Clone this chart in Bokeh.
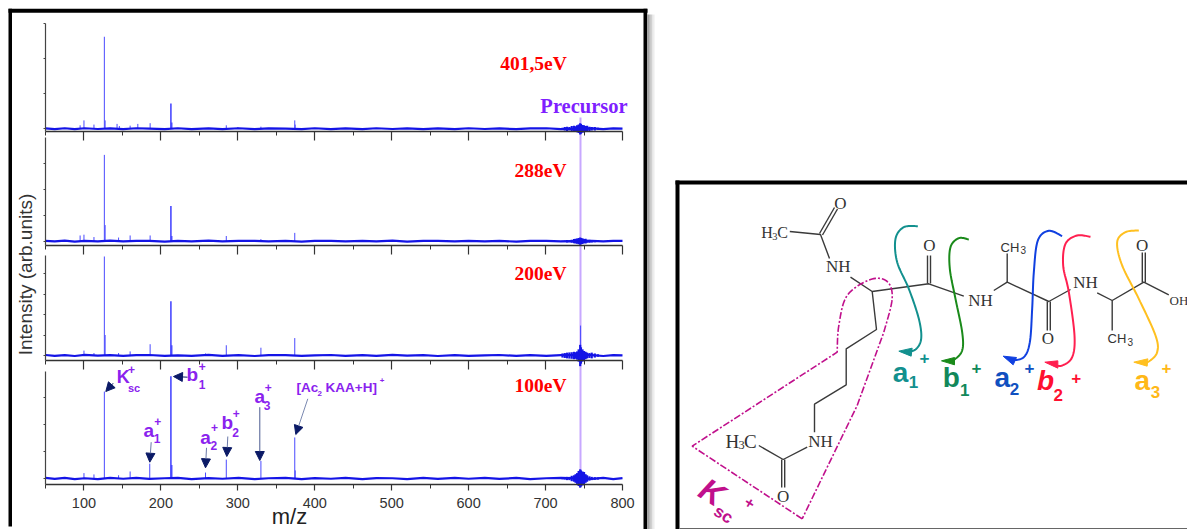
from math import pi
from bokeh.plotting import figure
from bokeh.embed import file_html
from bokeh.resources import INLINE
from bokeh.core.properties import value
from bokeh.models import LinearAxis, Range1d, FixedTicker, Arrow, NormalHead

# ---------- data (m/z, intensity in tick units) ----------
mz_ticks = [100, 200, 300, 400, 500, 600, 700, 800]
mz_minor = [50, 150, 250, 350, 450, 550, 650, 750]
energies = ["401,5eV", "288eV", "200eV", "100eV"]

peaks_mz_401 = [95, 100, 113, 126.5, 127.5, 143, 146, 160, 170, 186, 213, 214, 285, 374, 374.5, 300, 330]
peaks_i_401 = [0.10, 0.24, 0.12, 2.63, 0.24, 0.14, 0.08, 0.09, 0.14, 0.16, 0.72, 0.18, 0.10, 0.24, 0.12, 0.05, 0.06]

peaks_mz_288 = [95, 100, 113, 126.5, 127.5, 145, 160, 186, 213, 214, 285, 330, 374]
peaks_i_288 = [0.22, 0.25, 0.16, 3.32, 0.62, 0.14, 0.22, 0.22, 1.35, 0.2, 0.2, 0.08, 0.32]

peaks_mz_200 = [100, 113, 126.5, 127.5, 145, 160, 186, 213, 214, 258, 285, 330, 374, 745.5]
peaks_i_200 = [0.24, 0.12, 4.83, 1.0, 0.12, 0.2, 0.55, 2.65, 0.5, 0.1, 0.5, 0.38, 0.85, 1.46]

peaks_mz_100 = [100, 113, 126.5, 145, 160, 185.5, 213, 214, 258, 285, 330, 374, 374.6]
peaks_i_100 = [0.2, 0.15, 3.22, 0.12, 0.26, 0.55, 3.79, 0.5, 0.22, 0.7, 0.65, 1.52, 0.3]

base_mz = [50, 62, 75, 88, 101, 118, 134, 151, 168, 185, 205, 222, 240, 262, 280, 301, 322, 340, 362, 383, 400,
           421, 440, 462, 480, 501, 520, 541, 560, 582, 600, 621, 640, 662, 680, 701, 720, 760, 775, 788, 800]
base_i_401 = [.01, -.01, .015, -.01, .015, -.005, .01, -.01, .015, .005, -.01, .015, -.01, .01, -.01, .015, -.01, .01, .005, -.01, .015,
              -.01, .01, -.01, .015, -.005, .01, -.01, .01, -.01, .015, -.005, .01, -.01, .01, .015, -.01, .01, -.01, .01, .005]
base_i_288 = [.015, -.01, .02, -.015, .01, -.01, .02, -.01, .01, .015, -.015, .01, -.01, .02, -.01, .01, .015, -.01, .01, -.015, .01,
              .015, -.01, .01, -.01, .02, -.015, .01, .01, -.01, .015, -.01, .01, -.015, .01, .01, -.01, .01, -.01, .015, .01]
base_i_200 = [.025, -.02, .015, -.025, .03, -.01, .02, -.02, .015, .025, -.02, .01, -.02, .03, -.015, .02, -.025, .015, .02, -.02, .01,
              .025, -.015, .02, -.02, .03, -.01, .02, -.025, .02, -.015, .01, .025, -.02, .02, -.015, .02, .02, -.025, .02, .01]
base_i_100 = [.02, -.015, .02, -.02, .01, -.02, .02, -.01, .025, -.015, .01, .02, -.02, .015, -.01, .025, -.02, .01, .02, -.02, .015,
              -.01, .02, -.02, .015, .01, -.02, .02, -.015, .02, -.01, .02, -.015, .02, -.02, .01, .02, -.015, .02, -.02, .015]

noise_mz = [722, 725, 728, 731, 734, 737, 739, 741, 743, 745, 746, 748, 750, 752, 754, 757, 760, 764, 768]
noise_i_401 = [.03, .05, .06, .05, .08, .09, .07, .1, .12, .16, .14, .11, .1, .08, .09, .06, .05, .05, .03]
noise_i_288 = [.02, .03, .05, .04, .06, .08, .09, .1, .12, .14, .12, .11, .08, .09, .06, .06, .05, .04, .03]
noise_i_200 = [.1, .12, .14, .15, .16, .18, .16, .2, .3, .52, .4, .3, .22, .18, .14, .12, .14, .1, .06]
noise_i_100 = [.03, .04, .06, .06, .1, .12, .16, .2, .28, .34, .3, .26, .24, .16, .12, .08, .06, .05, .04]

tick_counts = [[0, 1, 2, 3], [0, 1, 2, 3], [0, 1, 2, 3, 4], [0, 1, 2, 3]]

# ---------- geometry in page pixels ----------
W, H = 1187, 529
X0, Y0 = 0, 0
X50, X800 = 45, 622
k = (X800 - X50) / 750
panels = [
    dict(name="a", base=128.3, unit=35.0, top=23.3, axis=130.7, peaks=(peaks_mz_401, peaks_i_401), noise=noise_i_401, b=base_i_401),
    dict(name="b", base=240.7, unit=26.0, top=137.0, axis=245.0, peaks=(peaks_mz_288, peaks_i_288), noise=noise_i_288, b=base_i_288),
    dict(name="c", base=355.0, unit=20.5, top=255.0, axis=360.0, peaks=(peaks_mz_200, peaks_i_200), noise=noise_i_200, b=base_i_200),
    dict(name="d", base=478.0, unit=27.0, top=370.7, axis=484.0, peaks=(peaks_mz_100, peaks_i_100), noise=noise_i_100, b=base_i_100),
]

p = figure(width=W, height=H, output_backend="svg", toolbar_location=None,
           x_axis_type=None, y_axis_type=None, min_border=0,
           x_range=Range1d(50 - (X50 - X0) / k, 50 + (X0 + W - X50) / k),
           y_range=Range1d(Y0 + H, Y0))
p.outline_line_color = None
p.grid.visible = False
p.background_fill_color = "white"
p.extra_x_ranges["px"] = Range1d(X0, X0 + W)
PX = dict(x_range_name="px")

SERIF = "Liberation Serif"
SANS = "Liberation Sans"


def label(x, y, t, color, size, style="bold", font=SANS, angle=0.0, align="center"):
    p.text([x], [y], text=[t], text_color=color, text_font_size=f"{size}px", text_font=value(font),
           text_font_style=style, text_align=align, text_baseline="middle", angle=angle, x_range_name="px")


# ---------- frames and shadows ----------
for x, a in zip([647, 648.5, 650, 651.5, 653], [0.55, 0.42, 0.28, 0.15, 0.06]):
    p.quad(left=[x], right=[x + 1.5], top=[14], bottom=[529], fill_color="#555555", fill_alpha=a, line_color=None, **PX)
p.quad(left=[8, 8, 643, 675, 675], right=[11.5, 647, 646.7, 679, 1187],
       top=[8.3, 8.3, 8.3, 180, 180], bottom=[526, 12.3, 529, 529, 184],
       fill_color="black", line_color=None, **PX)
p.quad(left=[679], right=[1187], top=[527.5], bottom=[529], fill_color="#666666", line_color=None, **PX)

# ---------- precursor line ----------
prec = 745.4
p.segment(x0=[prec], x1=[prec], y0=[117], y1=[473], line_color="#c8a8ff", line_width=2)

# ---------- spectra ----------
BLUE = "#1414e6"
for q in panels:
    name = q["name"]
    p.extra_y_ranges[name] = Range1d(-(Y0 + H - q["base"]) / q["unit"], (q["base"] - Y0) / q["unit"])
    mz, ii = q["peaks"]
    lw = [1.6 if (m == 213 or m == 214) else 1.0 for m in mz]
    p.segment(x0=mz, x1=mz, y0=[0] * len(mz), y1=ii, line_color="#4a4aff", line_width=lw, y_range_name=name)
    p.line(base_mz, q["b"], line_color=BLUE, line_width=2.2, y_range_name=name)
    p.segment(x0=noise_mz, x1=noise_mz, y0=[-v for v in q["noise"]], y1=q["noise"],
              line_color=BLUE, line_width=2.2, y_range_name=name)

for i, q in enumerate(panels):
    name = q["name"]
    lo = -(q["axis"] - q["base"]) / q["unit"]
    hi = (q["base"] - q["top"]) / q["unit"]
    xa = LinearAxis(y_range_name=name, fixed_location=lo, bounds=(50, 800),
                    ticker=FixedTicker(ticks=mz_ticks + [], minor_ticks=mz_minor),
                    major_tick_in=0, major_tick_out=9 if i < 3 else 6, minor_tick_in=0, minor_tick_out=4,
                    axis_line_color="#333333", axis_line_width=1.4, major_tick_line_color="#333333",
                    minor_tick_line_color="#333333", major_tick_line_width=1.2,
                    major_label_text_font=SANS, major_label_text_font_size="14.5px",
                    major_label_text_color="#333333", major_label_standoff=7)
    if i < 3:
        xa.major_label_overrides = {t: "" for t in mz_ticks}
    p.add_layout(xa, "below")
    ya = LinearAxis(y_range_name=name, fixed_location=50, bounds=(lo, hi),
                    ticker=FixedTicker(ticks=tick_counts[i]),
                    major_tick_in=0, major_tick_out=2, minor_tick_line_color=None,
                    axis_line_color="#444444", axis_line_width=1.2, major_tick_line_color="#444444",
                    major_label_overrides={t: "" for t in tick_counts[i]})
    p.add_layout(ya, "left")

# ---------- axis titles ----------
label(25, 274, "Intensity (arb.units)", "#333333", 19, style="normal", angle=pi / 2)
label(289, 516, "m/z", "#222222", 22, style="normal")

# ---------- energy labels ----------
RED = "#ff0000"
for (x, y), t in zip([(533, 63), (540, 170), (540, 272.7), (540, 385)], energies):
    label(x, y, t, RED, 19.5, font=SERIF)
label(583.5, 105.5, "Precursor", "#7f1fff", 20.5, font=SERIF)

# ---------- peak labels ----------
PUR = "#8a22ee"
for (x, y, t, s) in [
    (122.7, 376.7, "K", 18), (131, 369.3, "+", 12), (133.5, 387, "sc", 11),
    (191.7, 374, "b", 19), (201.7, 366, "+", 12), (201.7, 384, "1", 12),
    (148.3, 430, "a", 19), (157.3, 420.7, "+", 12), (156.7, 438.3, "1", 12),
    (205, 436.7, "a", 19), (214, 427.3, "+", 12), (213.3, 445.3, "2", 12),
    (226.7, 421.7, "b", 19), (235.7, 412.7, "+", 12), (235, 431.7, "2", 12),
    (259.3, 396, "a", 19), (267.7, 386.7, "+", 12), (266.7, 405, "3", 12),
]:
    label(x, y, t, PUR, s)
label(296, 386.7, "[Ac", PUR, 13.5, align="left")
label(317, 393, "2", PUR, 8, align="left")
label(325, 386.7, "KAA+H]", PUR, 13.5, align="left")
label(381.7, 379.5, "+", PUR, 8)

NAVY = "#0b1a66"
for (x0, y0, x1, y1, gray) in [
    (112.7, 382.7, 105.3, 391, NAVY), (187, 376.7, 173, 376, NAVY), (150.7, 441.7, 149.3, 461.7, "#6a78a8"),
    (206, 447.3, 205, 467.3, "#6a78a8"), (227.3, 436, 226.3, 456, "#6a78a8"),
    (259.3, 406.7, 259.3, 460, "#4a5a90"), (307.3, 398.3, 295.3, 434, "#7a88b0"),
]:
    p.add_layout(Arrow(end=NormalHead(size=9, fill_color=NAVY, line_color=NAVY), line_color=gray, line_width=1,
                       x_start=x0, y_start=y0, x_end=x1, y_end=y1, x_range_name="px", start_units="data", end_units="data"))

# ---------- molecule ----------
BOND = "#3a3a3a"
bonds = [
    [(789.3, 231), (820, 234), (829, 258)], [(850, 276.7), (871.7, 291), (928.3, 283.3), (963.3, 295.7)],
    [(871.7, 291), (876, 329), (845.7, 348.3), (845.7, 384.3), (814, 403.7), (814, 431.7)],
    [(806.7, 446.7), (782.7, 459), (758.3, 445)],
    [(993.3, 290), (1006.7, 281.7), (1048.3, 301), (1070, 289)], [(1006.7, 281.7), (1006.7, 253)],
    [(1096.7, 292.3), (1111.7, 300), (1143.3, 281.7), (1168.3, 294.3)], [(1111.7, 300), (1111.7, 330)],
]
doubles = [
    [(819, 233), (834, 207)], [(822, 234.5), (837, 208.5)],
    [(927, 283), (927, 255)], [(930, 283), (930, 255)],
    [(781.2, 459), (781.2, 487)], [(784.2, 459), (784.2, 487)],
    [(1046.8, 301), (1046.8, 330)], [(1049.8, 301), (1049.8, 330)],
    [(1141.8, 282), (1141.8, 252)], [(1144.8, 282), (1144.8, 252)],
]
for b in bonds + doubles:
    p.line([c[0] for c in b], [c[1] for c in b], line_color=BOND, line_width=1.4, x_range_name="px")


def chem(x, y, t, size=17, align="center"):
    label(x, y, t, "#333333", size, style="normal", font=SERIF, align=align)


for (x, y, t) in [(840, 203, "O"), (837.7, 266, "NH"), (929, 245, "O"), (980, 300, "NH"),
                  (1047.3, 337.5, "O"), (1085, 281.7, "NH"), (1141.7, 245, "O"), (820, 441, "NH"),
                  (782.7, 495.7, "O")]:
    chem(x, y, t)
chem(1169, 300, "OH", size=13, align="left")
for (x, y, s, dx, dc) in [(760.7, 231.7, 16, 11, 16), (725, 440.7, 19, 13, 18.5)]:
    chem(x, y, "H", size=s, align="left")
    label(x + dx, y + 4, "3", "#333333", s * 0.65, style="normal", font=SERIF, align="left")
    chem(x + dc, y, "C", size=s, align="left")
for (x, y) in [(1000, 246.7), (1107, 338.3)]:
    label(x, y, "CH", "#333333", 13, style="normal", font=SANS, align="left")
    label(x + 20, y + 3, "3", "#333333", 10, style="normal", font=SANS, align="left")

# ---------- cleavage curves ----------


def smooth(pts, steps=12):
    out = []
    P = [pts[0]] + pts + [pts[-1]]
    for i in range(1, len(P) - 2):
        for j in range(steps):
            t = j / steps
            out.append(tuple(0.5 * (2 * P[i][d] + (P[i + 1][d] - P[i - 1][d]) * t
                                    + (2 * P[i - 1][d] - 5 * P[i][d] + 4 * P[i + 1][d] - P[i + 2][d]) * t ** 2
                                    + (3 * P[i][d] - P[i - 1][d] - 3 * P[i + 1][d] + P[i + 2][d]) * t ** 3) for d in (0, 1)))
    out.append(pts[-1])
    return out


def z5(pts):
    return [(670 + x / 3, 175 + y / 3) for x, y in pts]


def z6(pts):
    return [(930 + x / 3, 175 + y / 3) for x, y in pts]


curves = [
    ("#12908e", z5([(742, 152), (700, 155), (675, 190), (680, 260), (715, 340), (745, 430), (752, 490), (735, 522), (705, 530)]),
     z5([(685, 527), (725, 518), (722, 542)])),
    ("#1a8a1a", z6([(115, 192), (85, 188), (60, 215), (58, 280), (75, 370), (95, 470), (95, 525), (70, 553), (50, 556)]),
     z6([(33, 556), (72, 546), (72, 568)])),
    ("#1040e0", z6([(395, 182), (355, 166), (322, 195), (310, 290), (305, 400), (298, 500), (280, 545), (245, 555)]),
     z6([(218, 542), (258, 546), (248, 568)])),
    ("#ff2050", z6([(480, 184), (440, 180), (405, 205), (398, 270), (415, 350), (432, 480), (425, 545), (395, 570), (370, 568)]),
     z6([(343, 560), (382, 556), (382, 578)])),
    ("#ffc020", z6([(625, 165), (585, 170), (560, 200), (575, 270), (625, 370), (675, 480), (680, 530), (655, 558), (635, 562)]),
     z6([(610, 560), (652, 550), (650, 572)])),
]
for col, pts, head in curves:
    s = smooth(pts)
    p.line([c[0] for c in s], [c[1] for c in s], line_color=col, line_width=2, x_range_name="px")
    p.patch([c[0] for c in head], [c[1] for c in head], fill_color=col, line_color=col, x_range_name="px")

# ---------- fragment labels ----------
TEAL, GRN, BL, RD, OR = "#12908e", "#12885a", "#1050c0", "#ff1030", "#ffb818"
for (x, y, t, c, s, st) in [
    (900, 371.7, "a", TEAL, 28, "bold"), (913, 381, "1", TEAL, 17, "bold"), (924, 357, "+", TEAL, 17, "bold"),
    (950.7, 376.7, "b", GRN, 28, "bold"), (964.3, 389, "1", GRN, 17, "bold"), (976, 367, "+", GRN, 17, "bold"),
    (1001.7, 376.7, "a", BL, 28, "bold"), (1014, 388.3, "2", BL, 17, "bold"), (1029, 367.7, "+", BL, 17, "bold"),
    (1045, 380, "b", RD, 28, "bold italic"), (1057.7, 394.3, "2", RD, 17, "bold"), (1075.7, 377.3, "+", RD, 17, "bold"),
    (1141.7, 380, "a", OR, 28, "bold"), (1155, 391, "3", OR, 17, "bold"), (1166, 367.7, "+", OR, 17, "bold"),
]:
    label(x, y, t, c, s, style=st)

# ---------- side-chain outline ----------
MAG = "#c0108c"
out = z5([(395, 1030), (65, 812), (500, 530)])
loop = smooth(z5([(500, 530), (505, 450), (530, 360), (600, 312), (650, 318), (665, 370), (640, 470)]))
tail = z5([(560, 690), (395, 1030)])
o = out + loop + tail
p.line([c[0] for c in o], [c[1] for c in o], line_color=MAG, line_width=1.6, line_dash="7 2 2 2", x_range_name="px")
label(711.7, 491.7, "K", MAG, 32, style="bold italic", angle=-0.55)
label(723, 514, "sc", MAG, 17, style="bold", angle=-0.55)
label(749.3, 502, "+", MAG, 16, style="bold", angle=-0.55)

open("out.html", "w").write(file_html(p, INLINE))
